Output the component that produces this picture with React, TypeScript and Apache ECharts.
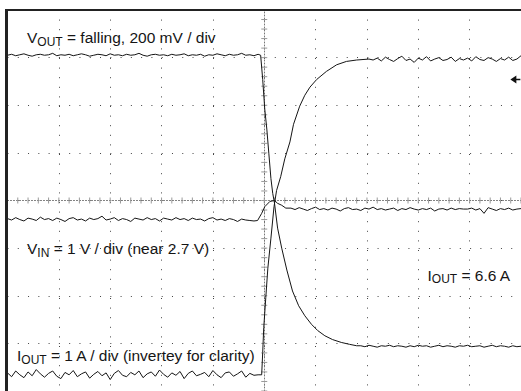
import React, { useEffect, useRef } from "react";
import * as echarts from "echarts";

// Screen is 10 horizontal x 8 vertical divisions; values are in divisions from the centre.
const X_MIN = -5;
const X_MAX = 5;
const Y_MIN = -4;
const Y_MAX = 4;
const SAMPLE_STEP = 0.08;
const MINOR_PER_DIV = 5;

// V_OUT (200 mV/div)
const voutLeftStart = -5;
const voutLeft = [
  3.05, 3.07, 3.04, 3.06, 3.08, 3.05, 3.03, 3.06, 3.07, 3.05,
  3.06, 3.09, 3.04, 3.06, 3.05, 3.07, 3.04, 3.06, 3.08, 3.06,
  3.03, 3.05, 3.07, 3.06, 3.04, 3.08, 3.05, 3.06, 3.04, 3.07,
  3.05, 3.06, 3.09, 3.05, 3.03, 3.06, 3.07, 3.05, 3.06, 3.04,
  3.07, 3.05, 3.06, 3.08, 3.04, 3.06, 3.05, 3.07, 3.03, 3.06,
  3.05, 3.08, 3.06, 3.04, 3.07, 3.05, 3.06, 3.09, 3.05, 3.06,
  3.04, 3.07,
];
const voutEdge: [number, number][] = [
  [-0.07, 3.05], [-0.03, 2.54], [0.01, 1.92], [0.05, 1.5], [0.09, 0.98],
  [0.13, 0.46], [0.165, 0.15], [0.2, -0.06], [0.26, -0.58], [0.34, -1.0],
  [0.44, -1.46], [0.55, -1.9], [0.67, -2.21], [0.79, -2.42], [0.92, -2.6],
  [1.04, -2.73], [1.18, -2.84], [1.33, -2.92], [1.5, -2.98], [1.66, -3.02],
  [1.8, -3.05],
];
const voutRightStart = 1.88;
const voutRight = [
  -3.05, -3.07, -3.04, -3.06, -3.08, -3.05, -3.06, -3.04, -3.07, -3.05,
  -3.06, -3.08, -3.05, -3.07, -3.04, -3.06, -3.05, -3.08, -3.06, -3.04,
  -3.07, -3.05, -3.06, -3.08, -3.05, -3.06, -3.04, -3.07, -3.06, -3.05,
  -3.08, -3.06, -3.04, -3.07, -3.05, -3.06, -3.08, -3.05, -3.07, -3.06,
];

// I_OUT (1 A/div, inverted)
const ioutLeftStart = -5;
const ioutLeft = [
  -3.62, -3.70, -3.58, -3.66, -3.72, -3.60, -3.68, -3.55, -3.64, -3.71,
  -3.63, -3.58, -3.69, -3.74, -3.61, -3.66, -3.57, -3.70, -3.64, -3.60,
  -3.73, -3.65, -3.59, -3.68, -3.62, -3.76, -3.63, -3.57, -3.67, -3.70,
  -3.61, -3.66, -3.58, -3.72, -3.64, -3.60, -3.69, -3.56, -3.65, -3.71,
  -3.62, -3.67, -3.59, -3.74, -3.63, -3.58, -3.68, -3.65, -3.61, -3.70,
  -3.57, -3.66, -3.72, -3.62, -3.60, -3.69, -3.64, -3.58, -3.71, -3.63,
  -3.67, -3.66,
];
const ioutEdge: [number, number][] = [
  [-0.05, -3.66], [-0.03, -3.19], [-0.01, -2.67], [0.03, -2.04], [0.07, -1.42],
  [0.13, -0.79], [0.19, -0.13], [0.24, 0.21], [0.32, 0.5], [0.4, 0.875],
  [0.5, 1.23], [0.57, 1.6], [0.69, 1.98], [0.79, 2.21], [0.89, 2.38],
  [1.02, 2.54], [1.21, 2.71], [1.41, 2.85], [1.6, 2.92], [1.8, 2.95],
  [2.04, 2.97],
];
const ioutRightStart = 2.12;
const ioutRight = [
  2.95, 2.99, 2.93, 3.01, 2.96, 2.92, 2.98, 3.03, 2.94, 2.97,
  2.90, 2.99, 2.95, 3.02, 2.93, 2.97, 3.00, 2.94, 2.96, 3.01,
  2.92, 2.98, 2.95, 2.99, 2.93, 3.02, 2.96, 2.94, 3.00, 2.97,
  2.92, 2.98, 2.95, 3.01, 2.94, 2.97, 3.04,
];

// V_IN (1 V/div)
const vinLeftStart = -5;
const vinLeft = [
  -0.38, -0.41, -0.36, -0.40, -0.43, -0.37, -0.39, -0.42, -0.35, -0.40,
  -0.38, -0.42, -0.37, -0.40, -0.44, -0.38, -0.36, -0.41, -0.39, -0.43,
  -0.37, -0.40, -0.38, -0.33, -0.41, -0.39, -0.36, -0.42, -0.38, -0.40,
  -0.44, -0.37, -0.39, -0.41, -0.36, -0.40, -0.38, -0.43, -0.37, -0.39,
  -0.41, -0.36, -0.40, -0.38, -0.42, -0.37, -0.40, -0.39, -0.43, -0.38,
  -0.36, -0.41, -0.39, -0.42, -0.38, -0.40, -0.44, -0.39, -0.41, -0.42,
  -0.43,
];
const vinEdge: [number, number][] = [
  [-0.13, -0.42], [-0.05, -0.27], [0.01, -0.13], [0.11, -0.02], [0.2, 0.0],
  [0.26, -0.06], [0.34, -0.1], [0.42, -0.16],
];
const vinRightStart = 0.52;
const vinRight = [
  -0.16, -0.19, -0.15, -0.18, -0.21, -0.17, -0.14, -0.19, -0.17, -0.20,
  -0.16, -0.18, -0.22, -0.17, -0.15, -0.19, -0.18, -0.21, -0.16, -0.18,
  -0.14, -0.19, -0.17, -0.20, -0.18, -0.16, -0.21, -0.17, -0.19, -0.15,
  -0.18, -0.20, -0.17, -0.19, -0.16, -0.22, -0.18, -0.17, -0.20, -0.16,
  -0.19, -0.17, -0.18, -0.18, -0.16, -0.20, -0.17, -0.27, -0.15, -0.18,
  -0.21, -0.17, -0.19, -0.16, -0.20, -0.18, -0.17,
];

// Trigger-level marker position (divisions)
const markerCoord: [number, number] = [4.89, 2.54];

// Annotation texts: [x, baseline, main, subscript, rest]
const annotations: [number, number, string, string, string][] = [
  [27, 42.3, "V", "OUT", " = falling, 200 mV / div"],
  [27, 253.3, "V", "IN", " = 1 V / div (near 2.7 V)"],
  [427.5, 280, "I", "OUT", " = 6.6 A"],
  [17, 360.5, "I", "OUT", " = 1 A / div (invertey for clarity)"],
];

const ARROW_PATH = "path://M0,4L6,0L6,8Z M5.5,3.2L10,3.2L10,4.8L5.5,4.8Z";
const FONT_FAMILY = '"Liberation Sans", Arial, Helvetica, sans-serif';
const MAIN_SIZE = 15.5;
const SUB_SIZE = 12;
const SUB_DROP = 3;
const TEXT_COLOR = "#151515";
const TRACE_COLOR = "#151515";

function sampled(start: number, values: number[]): [number, number][] {
  return values.map((v, i) => [Number((start + i * SAMPLE_STEP).toFixed(3)), v]);
}

function trace(start1: number, left: number[], edge: [number, number][], start2: number, right: number[]) {
  return [...sampled(start1, left), ...edge, ...sampled(start2, right)];
}

function measurer() {
  const canvas = document.createElement("canvas");
  const ctx = canvas.getContext("2d");
  return (text: string, size: number) => {
    if (!ctx) return text.length * size * 0.5;
    ctx.font = `${size}px ${FONT_FAMILY}`;
    return ctx.measureText(text).width;
  };
}

export default function App() {
  const ref = useRef<HTMLDivElement>(null);

  useEffect(() => {
    if (!ref.current) return;
    const chart = echarts.init(ref.current, undefined, { renderer: "svg" });
    const measure = measurer();

    const textGraphics: any[] = [];
    annotations.forEach(([x, base, main, sub, rest]) => {
      const wMain = measure(main, MAIN_SIZE);
      const wSub = measure(sub, SUB_SIZE);
      const common = { type: "text", z: 20, silent: true };
      textGraphics.push({
        ...common,
        x,
        y: base - 0.3 * MAIN_SIZE,
        style: { text: main, fill: TEXT_COLOR, fontSize: MAIN_SIZE, fontFamily: FONT_FAMILY, verticalAlign: "middle", align: "left" },
      });
      textGraphics.push({
        ...common,
        x: x + wMain,
        y: base + SUB_DROP - 0.3 * SUB_SIZE,
        style: { text: sub, fill: TEXT_COLOR, fontSize: SUB_SIZE, fontFamily: FONT_FAMILY, verticalAlign: "middle", align: "left" },
      });
      textGraphics.push({
        ...common,
        x: x + wMain + wSub,
        y: base - 0.3 * MAIN_SIZE,
        style: { text: rest, fill: TEXT_COLOR, fontSize: MAIN_SIZE, fontFamily: FONT_FAMILY, verticalAlign: "middle", align: "left" },
      });
    });

    // minor tick positions on the centre cross (every 1/5 division)
    const xTickPos: number[][] = [];
    for (let i = X_MIN * MINOR_PER_DIV; i <= X_MAX * MINOR_PER_DIV; i++) xTickPos.push([i / MINOR_PER_DIV, 0]);
    const yTickPos: number[][] = [];
    for (let i = Y_MIN * MINOR_PER_DIV; i <= Y_MAX * MINOR_PER_DIV; i++) yTickPos.push([0, i / MINOR_PER_DIV]);

    const tickStroke = { stroke: "#999", lineWidth: 1 };

    chart.setOption({
      animation: false,
      backgroundColor: "#ffffff",
      grid: { left: 7.5, top: 10, width: 514, height: 384, containLabel: false },
      xAxis: {
        type: "value",
        min: X_MIN,
        max: X_MAX,
        interval: 1,
        axisLabel: { show: false },
        axisTick: { show: false },
        axisLine: { show: true, onZero: true, lineStyle: { color: "#777", type: [1, 2], width: 1 } },
        splitLine: { show: true, lineStyle: { color: "#444", width: 1, type: [1, 8.6] } },
      },
      yAxis: {
        type: "value",
        min: Y_MIN,
        max: Y_MAX,
        interval: 1,
        axisLabel: { show: false },
        axisTick: { show: false },
        axisLine: { show: true, onZero: true, lineStyle: { color: "#777", type: [1, 2], width: 1 } },
        splitLine: { show: true, lineStyle: { color: "#444", width: 1, type: [1, 9.28] } },
      },
      series: [
        {
          name: "xCentreTicks",
          type: "custom",
          silent: true,
          z: 3,
          data: xTickPos,
          renderItem: (_p: any, api: any) => {
            const pt = api.coord([api.value(0), api.value(1)]);
            return { type: "line", shape: { x1: pt[0], y1: pt[1] - 3, x2: pt[0], y2: pt[1] + 3 }, style: tickStroke };
          },
        },
        {
          name: "yCentreTicks",
          type: "custom",
          silent: true,
          z: 3,
          data: yTickPos,
          renderItem: (_p: any, api: any) => {
            const pt = api.coord([api.value(0), api.value(1)]);
            return { type: "line", shape: { x1: pt[0] - 3, y1: pt[1], x2: pt[0] + 3, y2: pt[1] }, style: tickStroke };
          },
        },
        {
          name: "VOUT",
          type: "line",
          data: trace(voutLeftStart, voutLeft, voutEdge, voutRightStart, voutRight),
          showSymbol: false,
          symbol: "none",
          silent: true,
          lineStyle: { color: TRACE_COLOR, width: 1 },
          z: 5,
          markPoint: {
            symbol: ARROW_PATH,
            symbolSize: [10, 8],
            silent: true,
            itemStyle: { color: "#111" },
            label: { show: false },
            data: [{ coord: markerCoord }],
          },
        },
        {
          name: "IOUT",
          type: "line",
          data: trace(ioutLeftStart, ioutLeft, ioutEdge, ioutRightStart, ioutRight),
          showSymbol: false,
          symbol: "none",
          silent: true,
          lineStyle: { color: TRACE_COLOR, width: 1 },
          z: 5,
        },
        {
          name: "VIN",
          type: "line",
          data: trace(vinLeftStart, vinLeft, vinEdge, vinRightStart, vinRight),
          showSymbol: false,
          symbol: "none",
          silent: true,
          lineStyle: { color: TRACE_COLOR, width: 1 },
          z: 5,
        },
      ],
      graphic: [
        { type: "line", z: 30, silent: true, shape: { x1: 6.5, y1: 9, x2: 6.5, y2: 391 }, style: { stroke: "#222", lineWidth: 3 } },
        { type: "line", z: 30, silent: true, shape: { x1: 5, y1: 10, x2: 521, y2: 10 }, style: { stroke: "#222", lineWidth: 2 } },
        ...textGraphics,
      ],
    });

    return () => chart.dispose();
  }, []);

  return (
    <div
      ref={ref}
      style={{ position: "fixed", left: 0, top: 0, width: 521, height: 391, background: "#fff" }}
    />
  );
}
